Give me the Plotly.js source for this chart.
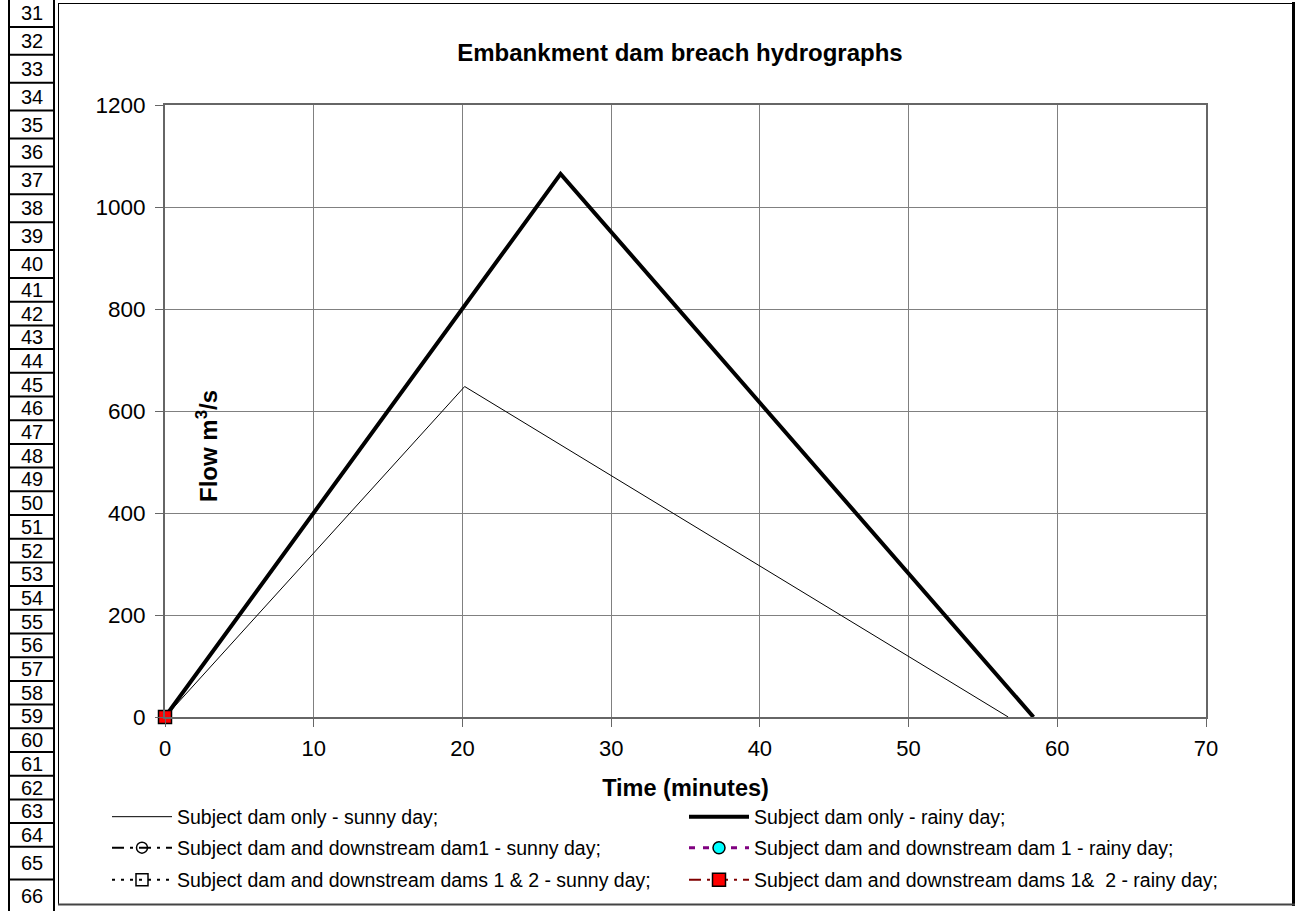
<!DOCTYPE html>
<html>
<head>
<meta charset="utf-8">
<script src="https://cdn.plot.ly/plotly-3.0.1.min.js"></script>
<style>html,body{margin:0;padding:0;background:#fff;}#chart{width:1300px;height:911px;}</style>
</head>
<body>
<div id="chart"></div>
<script>
// ---- Data ----
const seriesNames = [
  "Subject dam only - sunny day;",
  "Subject dam only - rainy day;",
  "Subject dam and downstream dam1 - sunny day;",
  "Subject dam and downstream dam 1 - rainy day;",
  "Subject dam and downstream dams 1 & 2 - sunny day;",
  "Subject dam and downstream dams 1&  2 - rainy day;"
];
const timeSunnyOnly = [0, 20.15, 56.7];
const flowSunnyOnly = [0, 648, 0];
const timeRainyOnly = [0, 26.6, 58.4];
const flowRainyOnly = [0, 1065, 0];
const timeDam1Sunny = [0];
const flowDam1Sunny = [0];
const timeDam1Rainy = [0];
const flowDam1Rainy = [0];
const timeDams12Sunny = [0];
const flowDams12Sunny = [0];
const timeDams12Rainy = [0];
const flowDams12Rainy = [0];
const rowNumbers = [31,32,33,34,35,36,37,38,39,40,41,42,43,44,45,46,47,48,49,50,51,52,53,54,55,56,57,58,59,60,61,62,63,64,65,66];
const xTicks = [0,10,20,30,40,50,60,70];
const yTicks = [0,200,400,600,800,1000,1200];

// ---- Layout geometry (pixels) ----
const W = 1300, H = 911;
const L = 165, R = 1206, T = 105, B = 717;
const px = v => (v - L) / (R - L);
const py = v => (B - v) / (B - T);
const FONT = "Arial, 'Liberation Sans', sans-serif";

const traces = [
  {x: timeSunnyOnly, y: flowSunnyOnly, name: seriesNames[0], mode: 'lines',
   line: {color: '#000', width: 1}, legend: 'legend'},
  {x: timeRainyOnly, y: flowRainyOnly, name: seriesNames[1], mode: 'lines',
   line: {color: '#000', width: 4}, legend: 'legend2'},
  {x: timeDam1Sunny, y: flowDam1Sunny, name: seriesNames[2], mode: 'lines+markers', cliponaxis: false,
   line: {color: '#000', width: 2, dash: '12px,6px,3px,6px'},
   marker: {symbol: 'circle-open', size: 11, color: '#000', line: {width: 1.5}}, legend: 'legend3'},
  {x: timeDam1Rainy, y: flowDam1Rainy, name: seriesNames[3], mode: 'lines+markers', cliponaxis: false,
   line: {color: '#800080', width: 3, dash: '6px,8px'},
   marker: {symbol: 'circle', size: 12, color: '#00FFFF', line: {color: '#000', width: 1.5}}, legend: 'legend4'},
  {x: timeDams12Sunny, y: flowDams12Sunny, name: seriesNames[4], mode: 'lines+markers', cliponaxis: false,
   line: {color: '#000', width: 2, dash: '3px,6px'},
   marker: {symbol: 'square-open', size: 12, color: '#000', line: {width: 1.5}}, legend: 'legend5'},
  {x: timeDams12Rainy, y: flowDams12Rainy, name: seriesNames[5], mode: 'lines+markers', cliponaxis: false,
   line: {color: '#800000', width: 2, dash: '12px,6px,3px,6px'},
   marker: {symbol: 'square', size: 13, color: '#FF0000', line: {color: '#000', width: 1.5}}, legend: 'legend6'}
];

// legend positions: [left px, center y px]
const legendPos = [[107, 817], [684, 817], [107, 848], [684, 848], [107, 880], [684, 880]];
const legendCommon = {orientation: 'v', xanchor: 'left', yanchor: 'middle', bgcolor: 'rgba(0,0,0,0)',
  borderwidth: 0, itemwidth: 60, font: {family: FONT, size: 19.5, color: '#000'}, itemclick: false};

const shapes = [];
const annotations = [];

// chart frame
shapes.push({type: 'line', xref: 'paper', yref: 'paper', x0: px(58.5), x1: px(58.5), y0: py(3), y1: py(905), line: {color: '#000', width: 1}});
shapes.push({type: 'line', xref: 'paper', yref: 'paper', x0: px(58), x1: px(1295), y0: py(3.5), y1: py(3.5), line: {color: '#000', width: 1}});
shapes.push({type: 'line', xref: 'paper', yref: 'paper', x0: px(1293.5), x1: px(1293.5), y0: py(2), y1: py(906), line: {color: '#000', width: 3}});
shapes.push({type: 'line', xref: 'paper', yref: 'paper', x0: px(58), x1: px(1295), y0: py(904.5), y1: py(904.5), line: {color: '#444', width: 2}});

// row header column
const rowTops = [];
let yy = -1;
rowNumbers.forEach((r, i) => {
  let h;
  if (r <= 40) h = 27.9; else if (r <= 64) h = 23.7; else h = 32.7;
  rowTops.push([yy, yy + h]);
  yy += h;
});
shapes.push({type: 'line', xref: 'paper', yref: 'paper', x0: px(9), x1: px(9), y0: py(-2), y1: py(912), line: {color: '#000', width: 2}});
shapes.push({type: 'line', xref: 'paper', yref: 'paper', x0: px(54), x1: px(54), y0: py(-2), y1: py(912), line: {color: '#000', width: 2}});
rowTops.forEach((t, i) => {
  shapes.push({type: 'line', xref: 'paper', yref: 'paper', x0: px(9), x1: px(54), y0: py(t[1]), y1: py(t[1]), line: {color: '#000', width: 2}});
  annotations.push({xref: 'paper', yref: 'paper', x: px(31.5), y: py((t[0] + t[1]) / 2), text: String(rowNumbers[i]),
    showarrow: false, xanchor: 'center', yanchor: 'middle', font: {family: FONT, size: 20, color: '#000'}});
});

// y axis title (inside plot as in reference)
annotations.push({xref: 'paper', yref: 'paper', x: px(207), y: py(446), text: '<b>Flow m<sup>3</sup>/s</b>', textangle: -90,
  showarrow: false, xanchor: 'center', yanchor: 'middle', font: {family: FONT, size: 24, color: '#000'}});

const layout = {
  width: W, height: H,
  margin: {l: L, r: W - R, t: T, b: H - B, pad: 0},
  paper_bgcolor: '#fff', plot_bgcolor: '#fff',
  title: {text: '<b>Embankment dam breach hydrographs</b>', x: px(680), xref: 'paper', xanchor: 'center',
    y: 1 - 53 / H, yanchor: 'middle', font: {family: FONT, size: 24, color: '#000'}},
  xaxis: {range: [0, 70], tickvals: xTicks, ticks: 'outside', ticklen: 8, tickcolor: '#666', tickwidth: 1,
    showgrid: true, gridcolor: '#808080', gridwidth: 1, zeroline: false,
    showline: true, linecolor: '#666', linewidth: 2, mirror: true,
    tickfont: {family: FONT, size: 22, color: '#000'}, ticklabelstandoff: 3,
    title: {text: '<b>Time (minutes)</b>', font: {family: FONT, size: 23.5, color: '#000'}, standoff: 19}},
  yaxis: {range: [0, 1200], tickvals: yTicks, ticks: 'outside', ticklen: 8, tickcolor: '#666', tickwidth: 1,
    showgrid: true, gridcolor: '#808080', gridwidth: 1, zeroline: false,
    showline: true, linecolor: '#666', linewidth: 2, mirror: true,
    tickfont: {family: FONT, size: 22.5, color: '#000'}, ticklabelstandoff: 5},
  showlegend: true,
  shapes: shapes,
  annotations: annotations
};
['legend','legend2','legend3','legend4','legend5','legend6'].forEach((k, i) => {
  layout[k] = Object.assign({}, legendCommon, {x: px(legendPos[i][0]), y: py(legendPos[i][1])});
});

Plotly.newPlot('chart', traces, layout, {displayModeBar: false, staticPlot: true});
</script>
</body>
</html>
